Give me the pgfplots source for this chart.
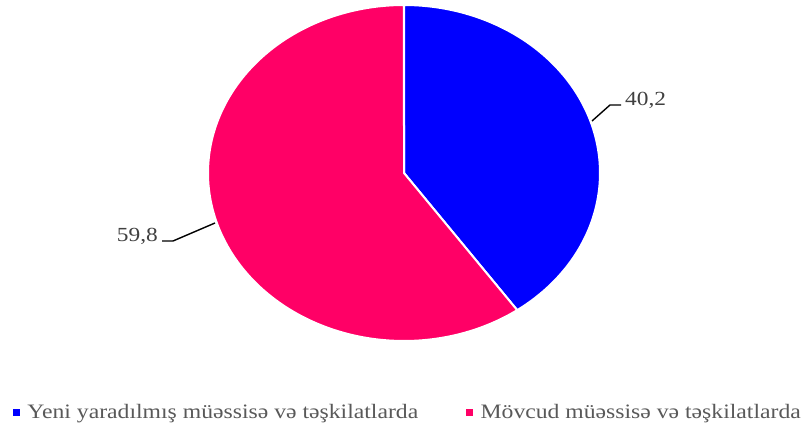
\documentclass[border=0pt]{standalone}
\usepackage{pgfplots}
\pgfplotsset{compat=1.18}
\usepackage{fontspec}
\setmainfont{Liberation Serif}
\definecolor{sliceblue}{HTML}{0000FF}
\definecolor{slicepink}{HTML}{FF0066}
\definecolor{legtext}{HTML}{595959}
\definecolor{labtext}{HTML}{404040}
% values (percent)
\def\valA{40.2}
\def\valB{59.8}
\newcommand{\sx}[1]{\scalebox{1.17}[1]{#1}}
\newcommand{\lx}[1]{\scalebox{1.155}[1]{#1}}
\begin{document}
\begin{tikzpicture}
\begin{axis}[
  width=804pt, height=431pt, scale only axis,
  xmin=0, xmax=804, ymin=0, ymax=431,
  hide axis, clip=false,
  legend columns=2,
  legend style={at={(axis cs:13,18.5)}, anchor=west, draw=none, fill=none,
    font=\fontsize{20.5}{24}\selectfont\color{legtext},
    /tikz/every even column/.append style={column sep=46pt},
    /tikz/every odd column/.append style={column sep=6pt},
    inner sep=0pt, outer sep=0pt},
  legend image code/.code={\fill[#1] (0pt,-3pt) rectangle (6pt,3pt);},
]
\path (axis cs:0,0) rectangle (axis cs:804,431);
\pgfmathsetmacro{\angA}{\valA*3.6}
\addplot[draw=white, line width=2pt, fill=sliceblue, domain=0:\angA, samples=120, variable=\t, forget plot]
  ({404+196*sin(t)}, {258+168*cos(t)}) -- (axis cs:404,258) -- cycle;
\addplot[draw=white, line width=2pt, fill=slicepink, domain=\angA:360, samples=200, variable=\t, forget plot]
  ({404+196*sin(t)}, {258+168*cos(t)}) -- (axis cs:404,258) -- cycle;
% leader lines
\addplot[black, line width=1.4pt, forget plot] coordinates {(592,310) (610,326) (621,326)};
\addplot[black, line width=1.4pt, forget plot] coordinates {(215,208) (173,190) (162,190)};
\node[anchor=west, inner sep=0pt, text=labtext, font=\fontsize{20}{24}\selectfont] at (axis cs:625,331) {\sx{40,2}};
\node[anchor=east, inner sep=0pt, text=labtext, font=\fontsize{20}{24}\selectfont] at (axis cs:158,195) {\sx{59,8}};
\addlegendimage{sliceblue}
\addlegendentry{\lx{Yeni yaradılmış müəssisə və təşkilatlarda}}
\addlegendimage{slicepink}
\addlegendentry{\lx{Mövcud müəssisə və təşkilatlarda}}
\end{axis}
\end{tikzpicture}
\end{document}
